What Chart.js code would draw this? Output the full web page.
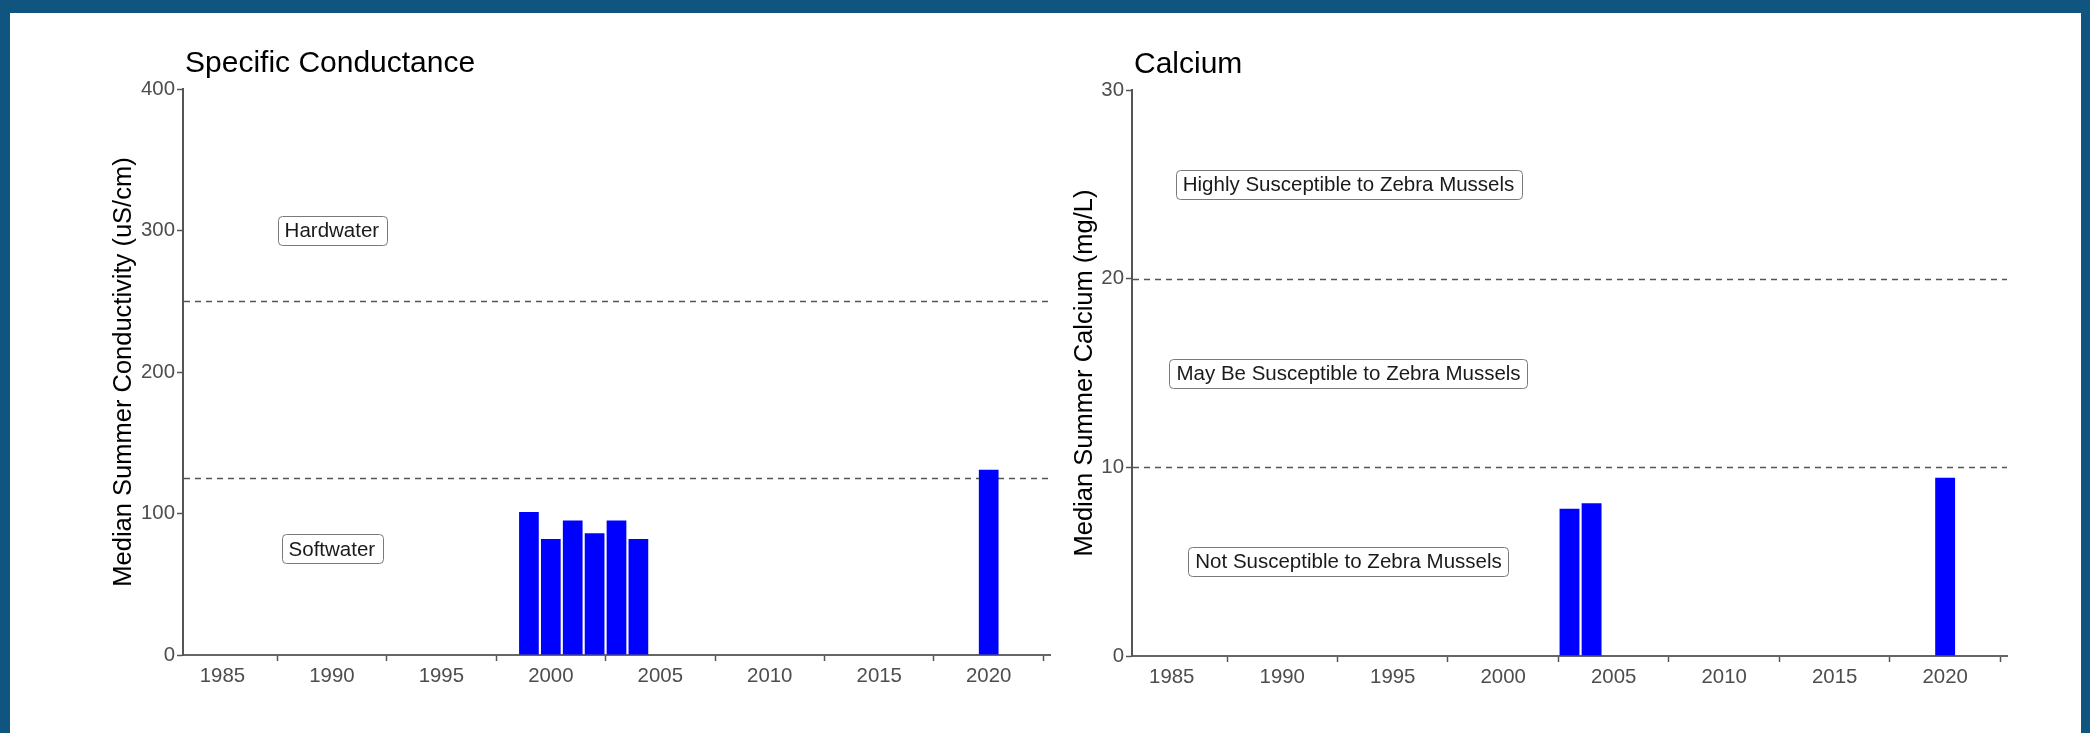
<!DOCTYPE html>
<html>
<head>
<meta charset="utf-8">
<title>Specific Conductance and Calcium</title>
<script src="https://cdn.jsdelivr.net/npm/chart.js@4.4.1/dist/chart.umd.min.js"></script>
<style>
  html, body { margin: 0; padding: 0; }
  body { width: 2090px; height: 733px; background: #10557f; position: relative; overflow: hidden; }
  #sheet { position: absolute; left: 10px; top: 13px; width: 2071px; height: 720px; background: #ffffff; }
  canvas { position: absolute; top: 0; }
  #cond { left: 0; }
  #cal { left: 1060px; }
</style>
</head>
<body>
<div id="sheet">
  <canvas id="cond" width="1060" height="720"></canvas>
  <canvas id="cal" width="1010" height="720"></canvas>
</div>
<script>
// Median summer specific conductance (uS/cm) by year
const condYears = [1999, 2000, 2001, 2002, 2003, 2004, 2020];
const condValues = [101, 82, 95, 86, 95, 82, 131];

// Median summer calcium (mg/L) by year
const calYears = [2003, 2004, 2020];
const calValues = [7.8, 8.1, 9.45];

// Axis ticks
const yearTicks = [1985, 1990, 1995, 2000, 2005, 2010, 2015, 2020];
const condTicks = [0, 100, 200, 300, 400];
const calTicks = [0, 10, 20, 30];

// Reference thresholds (dashed lines)
const condThresholds = [125, 250];
const calThresholds = [10, 20];

// Zone labels
const condZoneText = ['Hardwater', 'Softwater'];
const condZoneValues = [300, 75];
const condZoneYear = 1990;
const calZoneText = ['Highly Susceptible to Zebra Mussels', 'May Be Susceptible to Zebra Mussels', 'Not Susceptible to Zebra Mussels'];
const calZoneValues = [25, 15, 5];
const calZoneYear = 1993;

const FAMILY = '"Liberation Sans", Arial, Helvetica, sans-serif';

// Draws the dashed threshold lines behind the bars, then the zone labels and the panel title
const annotate = {
  id: 'annotate',
  beforeDatasetsDraw(chart, args, opts) {
    const {ctx, chartArea} = chart;
    const y = chart.scales.y;
    ctx.save();
    ctx.strokeStyle = '#555555';
    ctx.lineWidth = 1.5;
    ctx.setLineDash([6, 5]);
    opts.thresholds.forEach(v => {
      const py = Math.round(y.getPixelForValue(v)) + 0.5;
      ctx.beginPath();
      ctx.moveTo(chartArea.left + 1, py);
      ctx.lineTo(chartArea.right, py);
      ctx.stroke();
    });
    ctx.restore();
  },
  afterDraw(chart, args, opts) {
    const {ctx, chartArea} = chart;
    const x = chart.scales.x, y = chart.scales.y;
    ctx.save();
    // zone labels in rounded boxes
    ctx.font = '20.5px ' + FAMILY;
    ctx.textAlign = 'center';
    ctx.textBaseline = 'middle';
    opts.labels.forEach((t, i) => {
      const cx = x.getPixelForValue(opts.labelYear);
      const cy = y.getPixelForValue(opts.labelValues[i]);
      const w = ctx.measureText(t).width + 14;
      const h = 29;
      ctx.beginPath();
      ctx.roundRect(Math.round(cx - w / 2) + 0.5, Math.round(cy - h / 2) + 0.5, Math.round(w), h, 4);
      ctx.fillStyle = '#ffffff';
      ctx.fill();
      ctx.strokeStyle = '#7a7a7a';
      ctx.lineWidth = 1;
      ctx.stroke();
      ctx.fillStyle = '#1a1a1a';
      ctx.fillText(t, cx, cy + 1);
    });
    // panel title
    ctx.font = '30px ' + FAMILY;
    ctx.textAlign = 'left';
    ctx.textBaseline = 'alphabetic';
    ctx.fillStyle = '#000000';
    ctx.fillText(opts.title, chartArea.left + 2, chartArea.top - 17);
    ctx.restore();
  }
};

function makeChart(canvasId, years, values, cfg) {
  return new Chart(document.getElementById(canvasId), {
    type: 'bar',
    data: {
      datasets: [{
        data: years.map((yr, i) => ({x: yr, y: values[i]})),
        backgroundColor: '#0000ff',
        borderWidth: 0,
        barPercentage: 0.9,
        categoryPercentage: 1.0
      }]
    },
    options: {
      responsive: false,
      animation: false,
      events: [],
      layout: {padding: cfg.padding},
      plugins: {
        legend: {display: false},
        tooltip: {enabled: false},
        title: {display: false},
        annotate: {
          thresholds: cfg.thresholds,
          labels: cfg.labels,
          labelValues: cfg.labelValues,
          labelYear: cfg.labelYear,
          title: cfg.title
        }
      },
      scales: {
        x: {
          type: 'linear',
          min: 1983.2,
          max: 2022.8,
          offset: false,
          afterBuildTicks: s => { s.ticks = yearTicks.map(v => ({value: v})); },
          afterFit: s => { s.height = cfg.xHeight; },
          grid: {display: true, drawOnChartArea: false, drawTicks: true, tickLength: 6, tickWidth: 1.5, tickColor: '#555555'},
          border: {display: true, color: '#666666', width: 2},
          ticks: {
            font: {family: FAMILY, size: 20.4},
            color: '#4d4d4d',
            padding: 3,
            maxRotation: 0,
            autoSkip: false,
            callback: v => String(v)
          }
        },
        y: {
          type: 'linear',
          min: 0,
          max: cfg.yMax,
          afterBuildTicks: s => { s.ticks = cfg.yTicks.map(v => ({value: v})); },
          afterFit: s => { s.width = cfg.yWidth; },
          grid: {display: true, drawOnChartArea: false, drawTicks: true, tickLength: 6, tickWidth: 1.5, tickColor: '#555555'},
          border: {display: true, color: '#555555', width: 2},
          ticks: {
            font: {family: FAMILY, size: 20.4},
            color: '#4d4d4d',
            padding: 2,
            autoSkip: false,
            callback: v => String(v)
          },
          title: {
            display: true,
            text: cfg.yTitle,
            color: '#000000',
            padding: 0,
            font: {family: FAMILY, size: 25.5}
          }
        }
      }
    },
    plugins: [annotate]
  });
}

makeChart('cond', condYears, condValues, {
  padding: {left: 99, top: 76, right: 20, bottom: 0},
  xHeight: 78,
  yWidth: 74,
  yMax: 400,
  yTicks: condTicks,
  yTitle: 'Median Summer Conductivity (uS/cm)',
  thresholds: condThresholds,
  labels: condZoneText,
  labelValues: condZoneValues,
  labelYear: condZoneYear,
  title: 'Specific Conductance'
});

makeChart('cal', calYears, calValues, {
  padding: {left: 0, top: 77, right: 73, bottom: 0},
  xHeight: 77,
  yWidth: 62,
  yMax: 30,
  yTicks: calTicks,
  yTitle: 'Median Summer Calcium (mg/L)',
  thresholds: calThresholds,
  labels: calZoneText,
  labelValues: calZoneValues,
  labelYear: calZoneYear,
  title: 'Calcium'
});
</script>
</body>
</html>
